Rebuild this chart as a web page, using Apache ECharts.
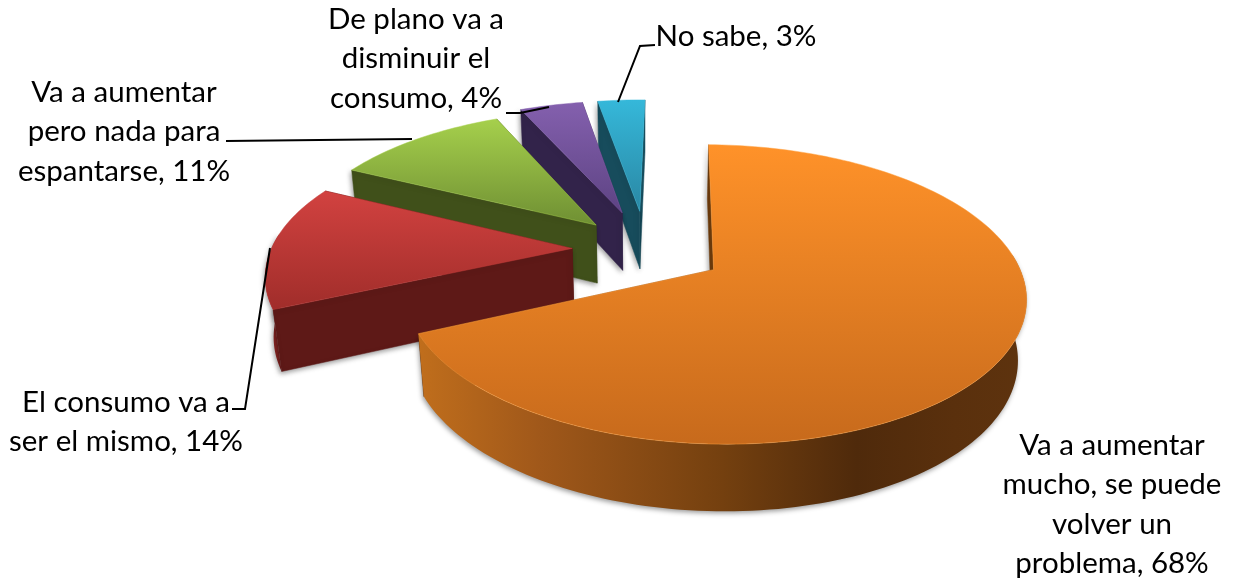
<!DOCTYPE html>
<html><head><meta charset="utf-8">
<style>html,body{margin:0;padding:0;background:#fff}#c{width:1236px;height:579px}</style>
<script src="https://cdn.jsdelivr.net/npm/echarts@6/dist/echarts.min.js"></script>
</head><body><div id="c"></div>
<script>
// DATA
const categories = ['Va a aumentar mucho, se puede volver un problema','El consumo va a ser el mismo','Va a aumentar pero nada para espantarse','De plano va a disminuir el consumo','No sabe'];
const values = [68,14,11,4,3];
const labelLines = [
  ['Va a aumentar','mucho, se puede','volver un','problema, 68%'],
  ['El consumo va a','ser el mismo, 14%'],
  ['Va a aumentar','pero nada para','espantarse, 11%'],
  ['De plano va a','disminuir el','consumo, 4%'],
  ['No sabe, 3%']
];
// STYLE / LAYOUT
const topColors = [['#FF9229','#C76A1C'],['#D24240','#A02D2A'],['#A6D04C','#6F8F33'],['#8460AE','#5D4383'],['#35B8DA','#2A87A3']];
const wallColors = ['#7A3E0E','#5E1917','#40501A','#32234A','#174C5C'];
const bandColors = [null,'#8A2422','#40501A','#32234A','#174C5C'];
const rimColors = ['#FFA040','#C03A38','#A6D04C','#8460AE','#35B8DA'];
const labelPos = [[1112,445],[126,402],[124,92],[416,19],[736,36]];
const leaders = [null,[[232,409],[245,409],[270,248]],[[226,141],[412,139]],[[506,113],[520,113],[549,107]],[[655,45],[640,46],[618,102]]];
const explodes = [0.26,0.243,0.243,0.28,0.28];
const radii = [0.985,0.99,1,1,1];
const view = {cx:646, cy:249, B:304, A:141, k:0.164, H:60.5, m:0.022, startDeg:1};
const lineH = 39.6, font = '29.5px Lato';

const total = values.reduce((a,b)=>a+b,0);
function proj(X,V,z){
  const w = 1 - view.k*V + view.m*z;
  return [view.cx + view.B*X/w, view.cy + (view.A*V + view.H*z)/w];
}
function renderItem(params, api){
  const i = params.dataIndex;
  let acc = 0; for(let j=0;j<i;j++) acc += values[j];
  const a0 = (view.startDeg + acc/total*360)*Math.PI/180;
  const a1 = (view.startDeg + (acc+api.value(0))/total*360)*Math.PI/180;
  const mid = (a0+a1)/2, r = radii[i];
  const ox = Math.sin(mid)*explodes[i], oy = -Math.cos(mid)*explodes[i];
  const n = Math.max(8, Math.round((a1-a0)*40));
  const arcTop=[], bandTop=[], bandBot=[];
  let first, last;
  for(let s=0;s<=n;s++){
    const t = a0+(a1-a0)*s/n, X=ox+r*Math.sin(t), V=oy-r*Math.cos(t);
    arcTop.push(proj(X,V,0));
    if(s===0) first=proj(X,V,1);
    if(s===n) last=proj(X,V,1);
    if(-Math.cos(t) > -0.12){ bandTop.push(proj(X,V,0)); bandBot.push(proj(X,V,1)); }
  }
  const apexT = proj(ox,oy,0), apexB = proj(ox,oy,1);
  const z = i===0 ? 50 : 10*(5-i);
  const wall = wallColors[i];
  const outerFill = i===0 ? {type:'linear',x:0,y:0,x2:1,y2:0,colorStops:[
      {offset:0,color:'#C06E1C'},{offset:0.2,color:'#A0581A'},{offset:0.5,color:'#74400F'},
      {offset:0.72,color:'#4F2A0B'},{offset:0.88,color:'#5A300D'},{offset:1,color:'#5E330E'}]} :
      bandColors[i];
  const shadow = {shadowBlur:5,shadowColor:'rgba(0,0,0,0.4)',shadowOffsetX:-1,shadowOffsetY:2};
  const wedge = (a,b,c,d,fill,extra)=>({type:'polygon',z2:z,silent:true,shape:{points:[a,b,c,d]},
    style:Object.assign({fill,stroke:fill,lineWidth:0.5},extra||{})});
  const backWall = wedge(apexT,arcTop[n],last,apexB,wall);
  const startWall = wedge(apexT,arcTop[0],first,apexB,i===0?'#6E3C0C':wall,shadow);
  const band = bandTop.length>1 ? {type:'polygon',z2:z,silent:true,shape:{points:bandTop.concat(bandBot.slice().reverse())},
    style:Object.assign({fill:outerFill},shadow)} : null;
  // Largest slice: its outer wall lies over its radial walls; others: radial walls over the outer wall.
  const children = (i===0 ? [backWall,startWall,band] : [band,backWall,startWall]).filter(Boolean);
  // top surface
  children.push({type:'polygon',z2:z+2,silent:true,shape:{points:[apexT].concat(arcTop)},
    style:{fill:{type:'linear',x:0,y:0,x2:0,y2:1,colorStops:[{offset:0,color:topColors[i][0]},{offset:1,color:topColors[i][1]}]},
      stroke:rimColors[i],lineWidth:0.8,strokeOpacity:0.6}});
  // leader line
  if(leaders[i]) children.push({type:'polyline',z2:200,silent:true,shape:{points:leaders[i]},style:{fill:null,stroke:'#000',lineWidth:2}});
  // label
  labelLines[i].forEach((ln,k)=>children.push({type:'text',z2:210,silent:true,
    style:{text:ln,x:labelPos[i][0],y:labelPos[i][1]+k*lineH,align:'center',verticalAlign:'middle',font,fill:'#000'}}));
  return {type:'group',children};
}
const chart = echarts.init(document.getElementById('c'),null,{renderer:'canvas'});
chart.setOption({
  animation:false,
  backgroundColor:'#fff',
  series:[{type:'custom',coordinateSystem:'none',renderItem,silent:true,
    data:values.map((v,i)=>({name:categories[i],value:[v]})),encode:{value:0}}]
});
</script></body></html>
